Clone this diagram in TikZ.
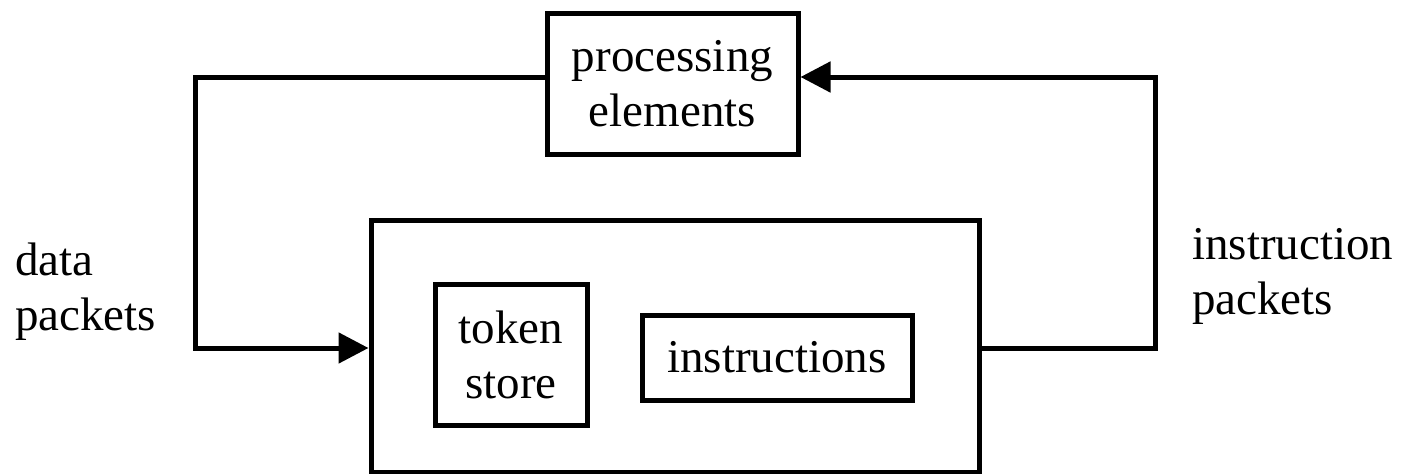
\documentclass[tikz,border=0pt]{standalone}
\usepackage{fontspec}
\setmainfont{Liberation Serif}
\usetikzlibrary{arrows.meta}
\begin{document}
\begin{tikzpicture}[x=1pt,y=-1pt,
  txt/.style={font=\fontsize{47}{55}\selectfont},
  box/.style={draw, line width=5pt, inner sep=0pt, align=center, txt},
  conn/.style={line width=5pt},
  head/.style={-{Triangle[length=30pt,width=30pt]}},
  lbl/.style={inner sep=0pt, align=left, anchor=north west, txt}]
\useasboundingbox (0,0) rectangle (1401,474);

% processing elements
\node[box, minimum width=251pt, minimum height=141pt] (pe) at (672.5,83.5) {processing\\elements};

% memory unit with its two parts
\node[draw, line width=5pt, inner sep=0pt, minimum width=608pt, minimum height=252pt] (mem) at (675,346) {};
\node[box, minimum width=152pt, minimum height=141pt] (tok) at (511,354.5) {token\\store};
\node[box, minimum width=270pt, minimum height=85pt] (ins) at (777,357.5) {instructions};

% routing corners
\coordinate (lt) at (195,77);
\coordinate (lb) at (195,348);
\coordinate (rb) at (1155,348);
\coordinate (rt) at (1155,77);

% data packets back to the memory unit
\draw[conn, head] (lt -| pe.west) -- (lt) -- (lb) -- (lb -| mem.west);
% instruction packets to the processing elements
\draw[conn, head] (rb -| mem.east) -- (rb) -- (rt) -- (rt -| pe.east);

% labels
\node[lbl] (dl) at (15,243) {data\\packets};
\node[lbl] (il) at (1192,228) {instruction\\packets};
\end{tikzpicture}
\end{document}
